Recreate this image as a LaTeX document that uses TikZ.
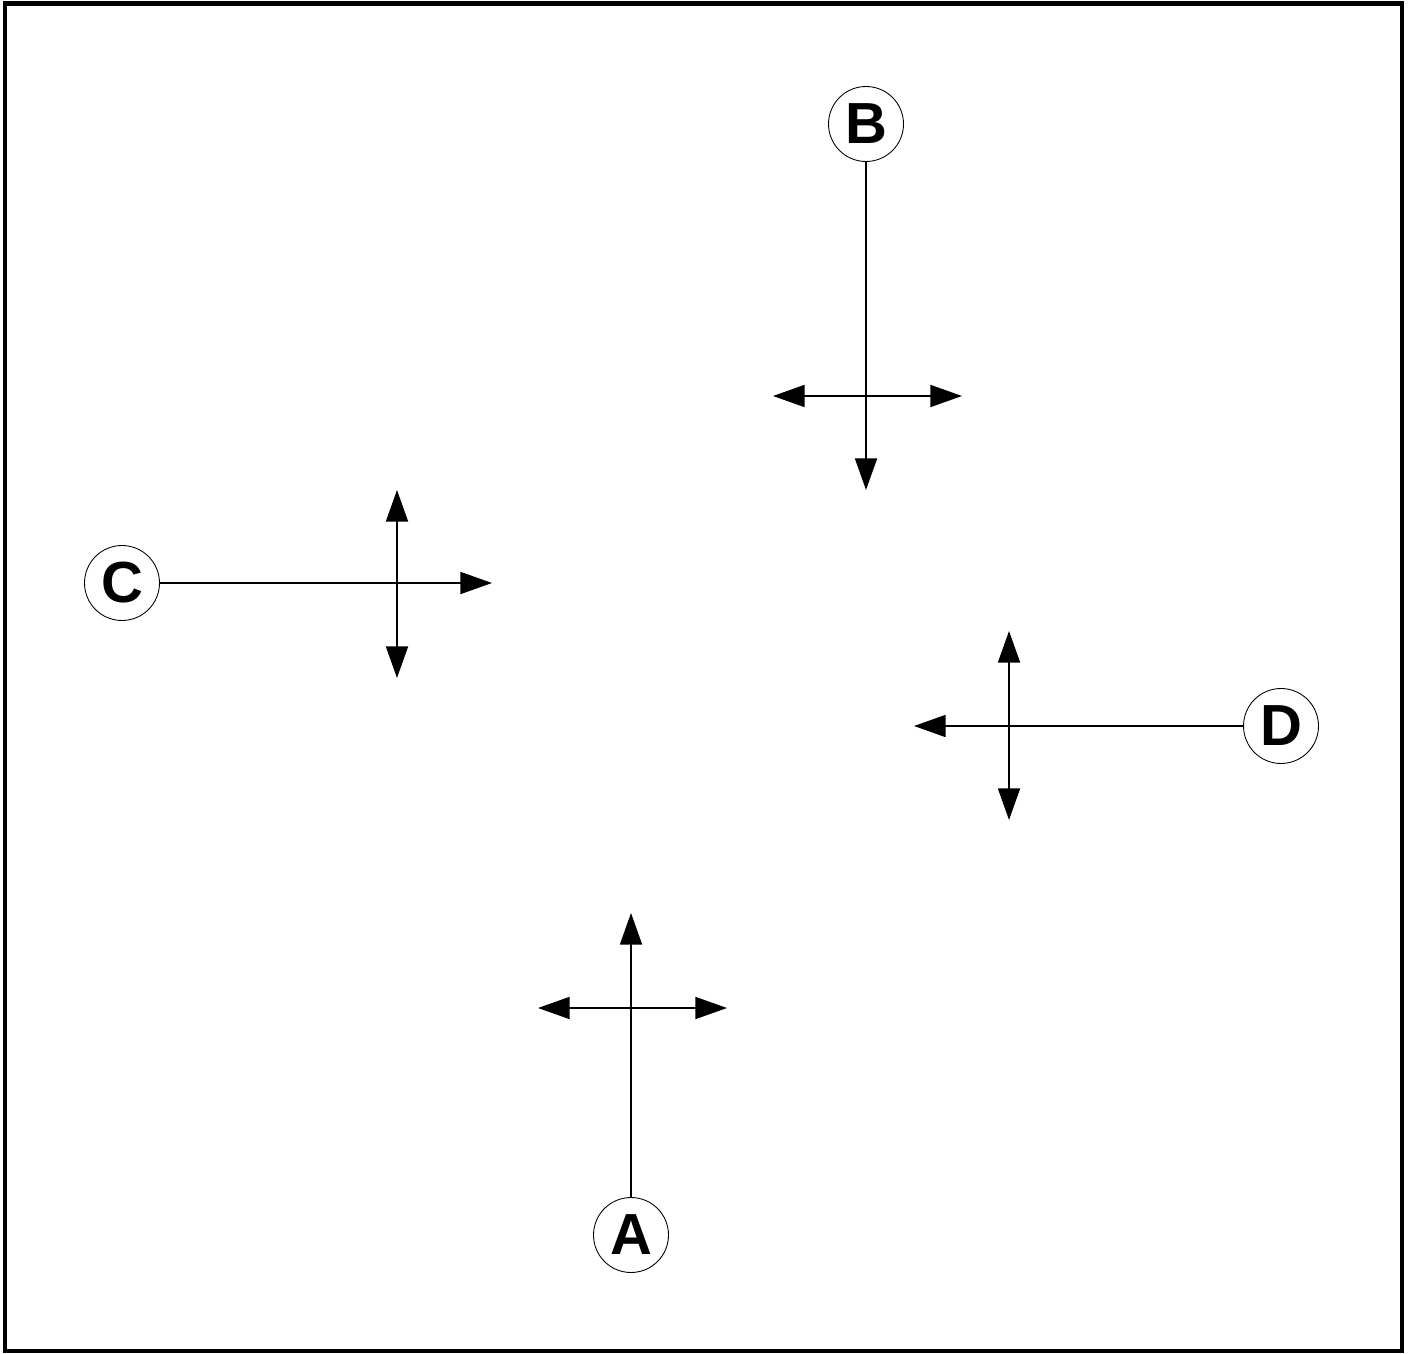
\documentclass[tikz,border=0pt]{standalone}
\usepackage{fontspec}
\setmainfont{Liberation Sans}
\usetikzlibrary{arrows.meta}

\begin{document}
\begin{tikzpicture}[x=0.02cm,y=-0.02cm,lbl/.style={circle,draw,line width=.5pt,minimum size=1.5cm,inner sep=0pt,font=\fontsize{33}{33}\selectfont\bfseries},arr/.style={-{Triangle[length=18pt,width=12.5pt]},line width=1.1pt},dbl/.style={{Triangle[length=18pt,width=12.5pt]}-{Triangle[length=18pt,width=12.5pt]},line width=1.1pt}]
\useasboundingbox (0,0) rectangle (1409,1354);
\draw[line width=2.3pt] (5,3.5) rectangle (1402,1351);

% Labelled stems: each circle feeds a single-headed stem.
\node[lbl] (B) at (866,124) {B};
\node[lbl] (C) at (122,583) {C};
\node[lbl] (D) at (1281,726) {D};
\node[lbl] (A) at (631,1235) {A};
\coordinate (bt) at (866,490);
\coordinate (ct) at (492,583);
\coordinate (dt) at (914,726);
\coordinate (at) at (631,913);
\draw[arr] (B)--(bt);
\draw[arr] (C)--(ct);
\draw[arr] (D)--(dt);
\draw[arr] (A)--(at);

% Crossing double arrows
\foreach \nm/\xa/\ya/\xb/\yb in {b/773/396/962/396,c/397/490/397/678,d/1009/631/1009/820,a/538/1008/727/1008}{
 \coordinate (\nm1) at (\xa,\ya);
 \coordinate (\nm2) at (\xb,\yb);
 \draw[dbl] (\nm1)--(\nm2);
}
\end{tikzpicture}
\end{document}
